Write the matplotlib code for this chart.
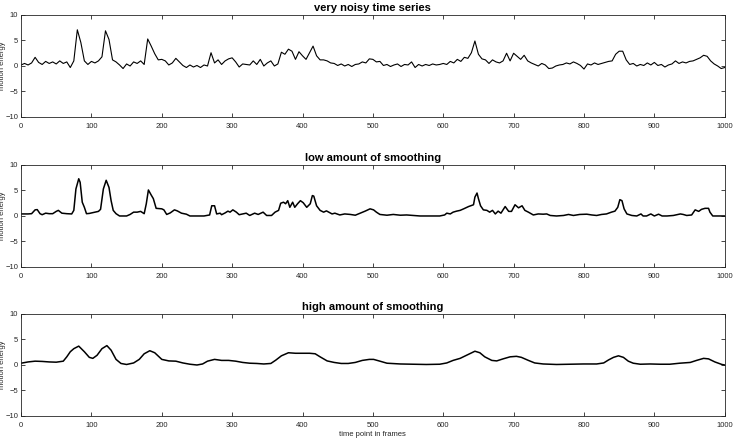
import numpy as np
import matplotlib
matplotlib.use("Agg")
import matplotlib.pyplot as plt

# noisy series, one value every 5 frames (0..1000)
noisy = [0.2, 0.5, 0.2, 0.6, 1.7, 0.7, 0.3, 0.9, 0.5, 0.8,
         0.4, 1.0, 0.5, 0.8, -0.3, 1.0, 7.1, 4.6, 1.0, 0.3,
         0.9, 0.6, 1.0, 1.8, 6.9, 5.2, 1.2, 0.8, 0.2, -0.5,
         0.4, 0.0, 0.8, 0.5, 1.0, 0.3, 5.3, 3.9, 2.4, 1.2,
         1.3, 1.0, 0.2, 0.6, 1.5, 0.8, 0.1, -0.3, 0.2, -0.2,
         0.1, -0.3, 0.2, 0.0, 2.6, 0.6, 1.2, 0.3, 1.0, 1.4,
         1.6, 0.8, -0.2, 0.4, 0.3, 0.2, 1.0, 0.3, 1.3, 0.0,
         0.6, 1.0, 0.0, 0.4, 2.7, 2.3, 3.3, 2.9, 1.3, 2.8,
         2.0, 1.3, 2.6, 3.9, 2.0, 1.2, 1.2, 1.0, 0.6, 0.5,
         0.1, 0.4, 0.0, 0.3, -0.1, 0.3, 0.4, 0.8, 0.6, 1.4,
         1.3, 0.8, 0.9, 0.1, 0.3, -0.1, 0.2, 0.4, -0.1, 0.3,
         0.2, 0.8, -0.3, 0.3, 0.0, 0.3, 0.1, 0.4, 0.2, 0.3,
         0.5, 0.3, 0.9, 0.6, 1.3, 0.9, 1.7, 1.5, 2.6, 4.9,
         2.3, 1.4, 1.2, 0.5, 1.2, 0.8, 0.6, 1.0, 2.5, 1.0,
         2.5, 1.9, 1.3, 2.1, 1.0, 0.6, 0.3, 0.0, 0.5, 0.2,
         -0.5, -0.4, 0.0, 0.2, 0.3, 0.6, 0.4, 0.8, 0.5, 0.1,
         -0.6, 0.4, 0.2, 0.6, 0.3, 0.5, 0.7, 0.9, 1.0, 2.3,
         2.9, 2.9, 1.2, 0.3, 0.5, 0.0, 0.3, 0.1, 0.6, 0.2,
         0.7, 0.1, 0.3, -0.2, 0.2, 0.4, 1.0, 0.5, 0.8, 0.6,
         0.9, 1.0, 1.3, 1.6, 2.1, 1.9, 1.0, 0.4, 0.0, -0.5,
         -0.3]
noisy_frames = np.linspace(0, 1000, len(noisy))

low_frames = [0, 10, 15, 20, 23, 27, 30, 35, 40, 45, 50, 53, 58, 65, 72, 75, 78, 82, 84, 87,
              90, 93, 97, 105, 110, 113, 117, 121, 125, 128, 131, 135, 140, 150, 155, 160, 165, 170, 175, 178,
              181, 185, 188, 192, 200, 203, 207, 212, 218, 222, 228, 235, 240, 250, 260, 268, 271, 275, 278, 283,
              285, 290, 294, 297, 301, 306, 310, 315, 320, 325, 332, 337, 344, 349, 356, 361, 366, 369, 373, 376,
              379, 382, 386, 389, 393, 397, 401, 406, 411, 414, 416, 420, 425, 430, 434, 442, 446, 453, 460, 468,
              475, 482, 489, 496, 501, 505, 510, 520, 529, 539, 548, 558, 567, 595, 602, 605, 610, 614, 619, 624,
              629, 636, 643, 645, 648, 650, 653, 657, 662, 666, 670, 674, 678, 682, 688, 693, 697, 702, 707, 712,
              716, 721, 728, 735, 742, 747, 752, 761, 771, 778, 785, 794, 804, 811, 818, 825, 832, 839, 844, 848,
              851, 854, 857, 861, 868, 875, 881, 884, 889, 895, 900, 906, 911, 918, 927, 937, 941, 946, 953, 958,
              963, 967, 972, 977, 979, 983, 990, 1000]
low_vals = [0.4, 0.4, 0.45, 1.2, 1.25, 0.45, 0.25, 0.55, 0.45, 0.45, 0.9, 1.1, 0.55, 0.45, 0.4, 1.1, 5.3, 7.3, 6.6, 2.7,
            1.7, 0.45, 0.5, 0.75, 0.9, 1.3, 5.3, 7.0, 5.6, 3.0, 1.1, 0.45, 0.0, 0.0, 0.3, 0.75, 0.75, 0.9, 0.45, 2.4,
            5.1, 4.1, 3.4, 1.5, 1.4, 1.2, 0.3, 0.6, 1.2, 1.0, 0.55, 0.35, 0.0, 0.0, 0.0, 0.2, 2.0, 2.0, 0.4, 0.55,
            0.25, 0.6, 0.95, 0.75, 1.2, 0.75, 0.25, 0.4, 0.55, 0.1, 0.55, 0.3, 0.75, 0.1, 0.1, 0.75, 1.1, 2.5, 2.7, 2.4,
            3.0, 1.7, 2.7, 1.7, 2.4, 3.0, 2.6, 1.7, 2.4, 4.0, 3.9, 2.0, 1.1, 0.75, 1.0, 0.4, 0.55, 0.2, 0.4, 0.3,
            0.15, 0.55, 0.95, 1.4, 1.2, 0.75, 0.3, 0.15, 0.3, 0.15, 0.2, 0.1, 0.0, 0.0, 0.2, 0.55, 0.4, 0.75, 0.95, 1.1,
            1.4, 1.85, 2.2, 3.7, 4.5, 3.4, 2.0, 1.2, 1.1, 0.75, 1.1, 0.4, 0.95, 0.55, 1.85, 0.9, 0.9, 2.2, 1.6, 2.0,
            1.1, 0.75, 0.2, 0.4, 0.35, 0.4, 0.1, 0.0, 0.1, 0.3, 0.1, 0.3, 0.35, 0.2, 0.1, 0.3, 0.4, 0.75, 0.95, 1.7,
            3.2, 3.0, 1.4, 0.4, 0.1, 0.0, 0.4, 0.0, 0.0, 0.4, 0.0, 0.35, 0.0, 0.0, 0.1, 0.4, 0.3, 0.1, 0.2, 1.2,
            0.9, 1.3, 1.5, 1.5, 0.75, 0.0, 0.0, 0.0]

high_frames = [0, 10, 20, 30, 40, 50, 60, 65, 70, 75, 82, 90, 97, 102, 108, 115, 122, 128, 135, 142,
               150, 160, 168, 175, 183, 190, 200, 210, 220, 230, 240, 250, 258, 265, 275, 285, 295, 305, 315, 325,
               335, 345, 355, 362, 370, 380, 390, 400, 410, 418, 425, 435, 445, 455, 465, 475, 485, 495, 501, 510,
               520, 539, 557, 576, 595, 605, 614, 624, 633, 645, 652, 659, 669, 676, 685, 695, 704, 711, 721, 730,
               742, 761, 780, 799, 818, 828, 835, 842, 849, 856, 863, 870, 880, 894, 908, 922, 936, 951, 960, 970,
               977, 986, 996, 1000]
high_vals = [0.35, 0.6, 0.75, 0.7, 0.6, 0.55, 0.75, 1.6, 2.6, 3.2, 3.7, 2.6, 1.5, 1.3, 1.9, 3.2, 3.8, 2.9, 1.1, 0.3,
             0.1, 0.4, 1.1, 2.2, 2.8, 2.4, 1.1, 0.8, 0.75, 0.4, 0.15, 0.0, 0.2, 0.75, 1.1, 0.9, 0.9, 0.75, 0.5, 0.35,
             0.3, 0.2, 0.3, 0.95, 1.8, 2.4, 2.3, 2.3, 2.3, 2.2, 1.6, 0.8, 0.5, 0.3, 0.3, 0.5, 0.9, 1.1, 1.1, 0.75,
             0.35, 0.2, 0.15, 0.1, 0.15, 0.4, 0.9, 1.3, 1.9, 2.7, 2.4, 1.6, 0.9, 0.8, 1.2, 1.6, 1.7, 1.5, 0.9, 0.4,
             0.2, 0.1, 0.15, 0.2, 0.2, 0.4, 1.0, 1.5, 1.8, 1.5, 0.75, 0.35, 0.15, 0.2, 0.15, 0.15, 0.35, 0.5, 0.9, 1.3,
             1.2, 0.6, 0.1, 0.0]

titles = ["very noisy time series", "low amount of smoothing", "high amount of smoothing"]
series = [(noisy_frames, noisy, 0.8), (low_frames, low_vals, 1.1), (high_frames, high_vals, 1.1)]

plt.rcParams['font.family'] = ['Liberation Sans', 'DejaVu Sans']
fig = plt.figure(figsize=(7.33, 4.41), dpi=100)
bottoms = [0.7347, 0.3946, 0.0567]
grey = '#262626'

for i, (b, (xs, ys, lw)) in enumerate(zip(bottoms, series)):
    ax = fig.add_axes([0.0287, b, 0.96, 0.2313])
    ax.plot(xs, ys, color='black', lw=lw)
    ax.set_xlim(0, 1000)
    ax.set_ylim(-10, 10)
    ax.set_xticks(np.arange(0, 1001, 100))
    ax.set_yticks([-10, -5, 0, 5, 10])
    ax.tick_params(direction='in', top=True, right=True, length=3, width=0.6,
                   labelsize=5.5, colors=grey, pad=2)
    ax.tick_params(axis='x', pad=4)
    for s in ax.spines.values():
        s.set_color(grey)
        s.set_linewidth(0.6)
    ax.set_title(titles[i], fontsize=8, fontweight='bold', pad=3)
    ax.set_ylabel('motion energy', fontsize=5.5, color=grey)
    ax.yaxis.set_label_coords(-0.021, 0.5)
    if i == 2:
        ax.set_xlabel('time point in frames', fontsize=5.5, color=grey, labelpad=2)

fig.savefig('out.png', dpi=100)
